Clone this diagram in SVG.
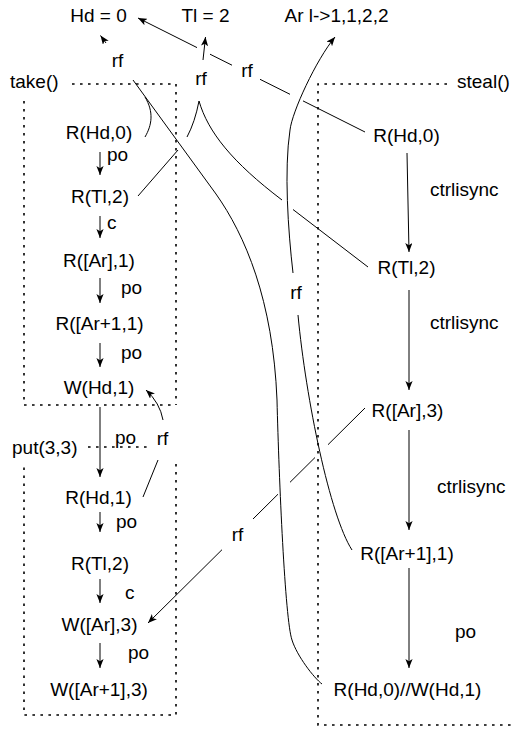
<svg xmlns="http://www.w3.org/2000/svg" width="514" height="730" viewBox="0 0 514 730">
<style>
text{font-family:"Liberation Sans",Arial,Helvetica,sans-serif;font-size:19px;fill:#000}
.m{text-anchor:middle}
.e{fill:none;stroke:#000;stroke-width:1}
.a{fill:none;stroke:#000;stroke-width:1;marker-end:url(#ah)}
.d{fill:none;stroke:#000;stroke-width:1.6;stroke-dasharray:2.6 5.4}
</style>
<defs>
<marker id="ah" viewBox="0 0 10 8" refX="10" refY="4" markerWidth="9" markerHeight="7.2" orient="auto" markerUnits="userSpaceOnUse">
<path d="M0,0 L10,4 L0,8 L2.5,4 z" fill="#000"/>
</marker>
</defs>
<rect width="514" height="730" fill="#fff"/>
<g id="boxes">
<path class="d" d="M72,84 H176 V405 M24,405 H176 M24,101 V405"/>
<path class="d" d="M447,84 H318 V725 H514"/>
<path class="d" d="M88,447 H148 M176,464 V715 H24 V467"/>
<text x="10" y="88">take()</text>
<text x="457" y="88">steal()</text>
<text x="12" y="454">put(3,3)</text>
</g>
<g id="init">
<text class="m" x="98.5" y="22">Hd = 0</text>
<text class="m" x="205.5" y="22">Tl = 2</text>
<text class="m" x="336.5" y="22">Ar l-&gt;1,1,2,2</text>
</g>
<g id="take">
<text class="m" x="99" y="139">R(Hd,0)</text>
<text class="m" x="100" y="203">R(Tl,2)</text>
<text class="m" x="99" y="267">R([Ar],1)</text>
<text class="m" x="99.5" y="330">R([Ar+1,1)</text>
<text class="m" x="99" y="394">W(Hd,1)</text>
</g>
<g id="put">
<text class="m" x="98.5" y="504">R(Hd,1)</text>
<text class="m" x="100" y="570">R(Tl,2)</text>
<text class="m" x="99.5" y="631">W([Ar],3)</text>
<text class="m" x="99" y="696">W([Ar+1],3)</text>
</g>
<g id="steal">
<text class="m" x="406.5" y="142">R(Hd,0)</text>
<text class="m" x="406.5" y="274">R(Tl,2)</text>
<text class="m" x="407.5" y="417">R([Ar],3)</text>
<text class="m" x="407" y="560">R([Ar+1],1)</text>
<text class="m" x="407.5" y="696">R(Hd,0)//W(Hd,1)</text>
</g>
<g id="connectors">
<path class="a" d="M100,152 V175"/>
<path class="a" d="M100,216 V238"/>
<path class="a" d="M100,278 V303"/>
<path class="a" d="M100,343 V367"/>
<path class="a" d="M100,407 V477"/>
<path class="a" d="M100,512 V532"/>
<path class="a" d="M100,579 V603"/>
<path class="a" d="M100,643 V668"/>
<path class="a" d="M407,153 L409,252"/>
<path class="a" d="M409,290 V390"/>
<path class="a" d="M409,430 V530"/>
<path class="a" d="M409,568 V668"/>
<text x="107" y="161">po</text>
<text x="107" y="229">c</text>
<text x="121" y="294">po</text>
<text x="121" y="359">po</text>
<text x="115" y="444">po</text>
<text x="116" y="528">po</text>
<text x="125" y="599">c</text>
<text x="128" y="659">po</text>
<text x="430" y="196">ctrlisync</text>
<text x="430" y="329">ctrlisync</text>
<text x="437" y="493">ctrlisync</text>
<text x="455" y="638">po</text>
<!-- steal R(Hd,0) rf Hd=0 -->
<path class="e" d="M365,132 L303,100.9 M290,94.3 L260,79.3 M232,65.2 L210,54.2"/>
<path class="a" d="M197,47.6 L138,18"/>
<text class="m" x="247" y="77">rf</text>
<!-- steal R(Tl,2) and take R(Tl,2) rf Tl=2 -->
<path class="e" d="M368,267 L293,209.5 M282,200 C232,162 208,132 199,101"/>
<path class="e" d="M138,196 L178,150 M187,137 Q195,122 199,101"/>
<path class="a" d="M203,60 L205.5,37"/>
<text class="m" x="201" y="85">rf</text>
<!-- long rf to Hd=0 -->
<path class="e" d="M322,684 C314,678 297,656 292,640 C285,620 279,480 277,400 C273,300 245,235 216,194 L133,80"/>
<path class="e" d="M145,137 C152,125 154,112 145,97"/>
<path class="a" d="M106,43 L100.5,35.5"/>
<text class="m" x="117.5" y="67">rf</text>
<!-- R([Ar+1],1) rf Ar -->
<path class="e" d="M352,550 C330,516 306,400 298,315"/>
<path class="a" d="M293,273 C288,230 284,170 290,130 C292,112 316,60 335,37"/>
<text class="m" x="296" y="299">rf</text>
<!-- R([Ar],3) rf W([Ar],3) -->
<path class="e" d="M365,408 L328,444.7 M315,457.5 L290,482.3 M278,494.2 L253,519"/>
<path class="a" d="M222,549.7 L148,623"/>
<text class="m" x="237.5" y="541">rf</text>
<!-- R(Hd,1) rf W(Hd,1) -->
<path class="e" d="M143,497 L158,460"/>
<path class="a" d="M163,420 Q160,403 146,390"/>
<text class="m" x="162.5" y="445">rf</text>
</g>
</svg>
